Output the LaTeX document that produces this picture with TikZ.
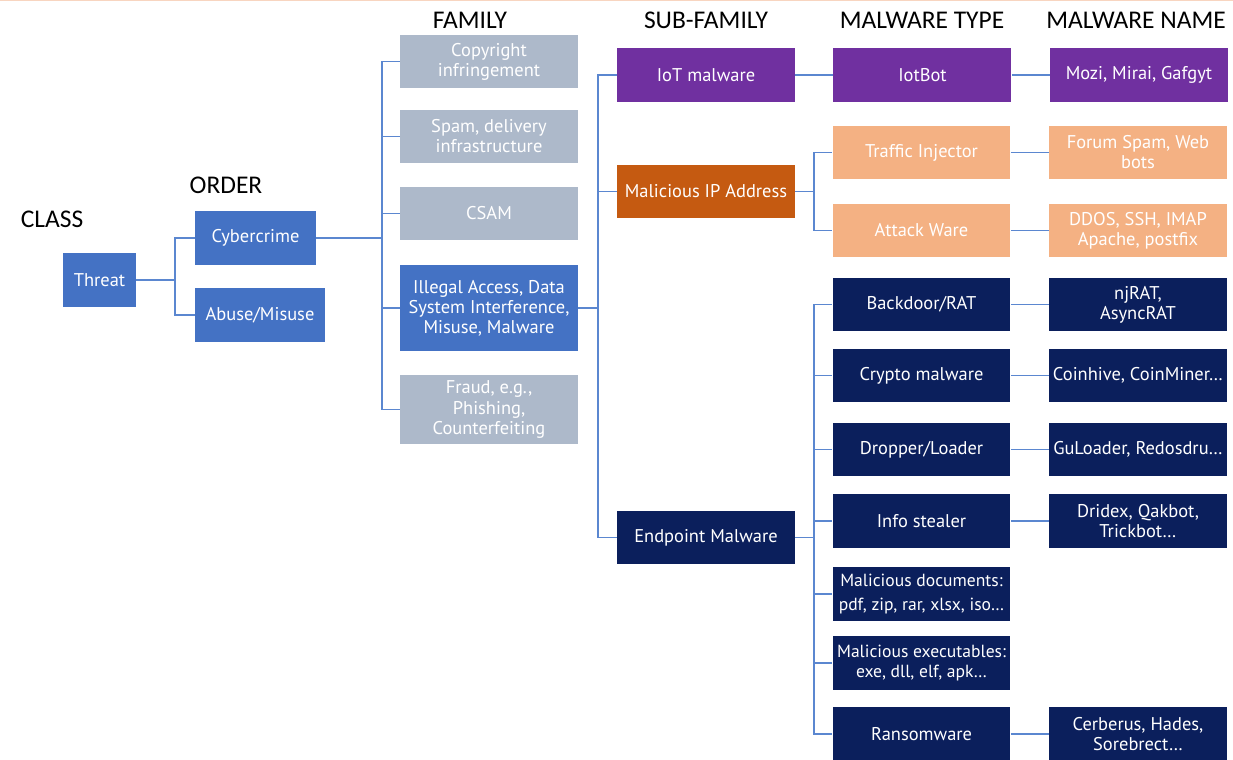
\documentclass[tikz,border=0pt]{standalone}
\usepackage{fontspec}
\setmainfont{PT Sans}
\newfontfamily\headfont{Carlito}
\usetikzlibrary{positioning}

\definecolor{ordblue}{HTML}{4472C4}
\definecolor{famgrey}{HTML}{ADB9CA}
\definecolor{iotpurple}{HTML}{7030A0}
\definecolor{ipbrown}{HTML}{C55A11}
\definecolor{ipsalmon}{HTML}{F4B183}
\definecolor{epnavy}{HTML}{0B1F5C}
\definecolor{linkblue}{HTML}{5B87D0}
\definecolor{toppeach}{HTML}{F8D5C0}

\begin{document}
\begin{tikzpicture}[x=0.02cm, y=-0.02cm, node distance=4.33cm,
    main node/.style={rectangle, minimum width=3.56cm, minimum height=1.07cm, inner sep=1pt, align=center, text=white, font=\fontsize{10.5}{11.4}\selectfont},
    head/.style={font=\headfont\fontsize{14.5}{16}\selectfont},
    link/.style={draw=linkblue, line width=1pt}]
        \useasboundingbox (0,0) rectangle (1233,760);
        \draw[toppeach, line width=1pt] (0,0.5) -- (1233,0.5);

        % column heads
        \node[head] (h1) at (52,219) {CLASS};
        \node[head] (h2) at (226,185) {ORDER};
        \node[head] (h3) at (470,20) {FAMILY};
        \node[head] (h4) at (706,20) {SUB-FAMILY};
        \node[head] (h5) at (922,20) {MALWARE TYPE};
        \node[head] (h6) at (1136,20) {MALWARE NAME};

        % class and order
        \node[main node, fill=ordblue, minimum width=1.46cm] (1) at (99.5,280) {Threat};
        \node[main node, fill=ordblue, minimum width=2.42cm] (2) at (255.5,238) {Cybercrime};
        \node[main node, fill=ordblue, minimum width=2.6cm] (3) at (260,315) {Abuse/Misuse};

        % family
        \node[main node, fill=famgrey] (4) at (489,61.5) {Copyright\\infringement};
        \node[main node, fill=famgrey] (5) at (489,136.5) {Spam, delivery\\infrastructure};
        \node[main node, fill=famgrey] (6) at (489,213.5) {CSAM};
        \node[main node, fill=ordblue, minimum height=1.72cm] (7) at (489,308) {Illegal Access, Data\\System Interference,\\Misuse, Malware};
        \node[main node, fill=famgrey, minimum height=1.38cm] (8) at (489,409.5) {Fraud, e.g.,\\Phishing,\\Counterfeiting};

        % sub-family
        \node[main node, fill=iotpurple] (9) at (706,75) {IoT malware};
        \node[main node, fill=ipbrown] (10) at (706,191.5) {Malicious IP Address};
        \node[main node, fill=epnavy] (11) at (706,537.5) {Endpoint Malware};

        % malware type
        \node[main node, fill=iotpurple] (12) [right of=9] {IotBot};
        \node[main node, fill=ipsalmon] (13) at (921.5,152.5) {Traffic Injector};
        \node[main node, fill=ipsalmon] (14) at (921.5,230.5) {Attack Ware};
        \node[main node, fill=epnavy] (15) at (921.5,304.5) {Backdoor/RAT};
        \node[main node, fill=epnavy] (16) at (921.5,375.5) {Crypto malware};
        \node[main node, fill=epnavy] (17) at (921.5,449.5) {Dropper/Loader};
        \node[main node, fill=epnavy] (18) at (921.5,521) {Info stealer};
        \node[main node, fill=epnavy, font=\fontsize{10}{11}\selectfont] (19) at (921.5,594) {Malicious documents:\\[3pt]pdf, zip, rar, xlsx, iso…};
        \node[main node, fill=epnavy, font=\fontsize{10}{11.4}\selectfont] (20) at (921.5,663) {Malicious executables:\\exe, dll, elf, apk…};
        \node[main node, fill=epnavy] (21) at (921.5,734) {Ransomware};

        % malware name
        \node[main node, fill=iotpurple] (22) [right of=12] {Mozi, Mirai, Gafgyt};
        \node[main node, fill=ipsalmon] (23) [right of=13] {Forum Spam, Web\\bots};
        \node[main node, fill=ipsalmon] (24) [right of=14] {DDOS, SSH, IMAP\\Apache, postfix};
        \node[main node, fill=epnavy] (25) [right of=15] {njRAT,\\AsyncRAT};
        \node[main node, fill=epnavy] (26) [right of=16] {Coinhive, CoinMiner…};
        \node[main node, fill=epnavy] (27) [right of=17] {GuLoader, Redosdru…};
        \node[main node, fill=epnavy] (28) [right of=18] {Dridex, Qakbot,\\Trickbot…};
        \node[main node, fill=epnavy] (29) [right of=21] {Cerberus, Hades,\\Sorebrect…};

        % tree links
        \draw[link] (1.east) -- ++(39,0) coordinate (b1) |- (2.west) (b1) |- (3.west);
        \draw[link] (2.east) -- ++(66,0) coordinate (b2);
        \foreach \n in {4,...,8} \draw[link] (b2) |- (\n.west);
        \draw[link] (7.east) -- ++(20,0) coordinate (b3);
        \foreach \n in {9,10,11} \draw[link] (b3) |- (\n.west);
        \draw[link] (10.east) -- ++(19,0) coordinate (b4);
        \foreach \n in {13,14} \draw[link] (b4) |- (\n.west);
        \draw[link] (11.east) -- ++(19,0) coordinate (b5);
        \foreach \n in {15,...,21} \draw[link] (b5) |- (\n.west);

        \path (9) edge[link] (12)
              (12) edge[link] (22)
              (13) edge[link] (23)
              (14) edge[link] (24)
              (15) edge[link] (25)
              (16) edge[link] (26)
              (17) edge[link] (27)
              (18) edge[link] (28)
              (21) edge[link] (29);
\end{tikzpicture}
\end{document}
